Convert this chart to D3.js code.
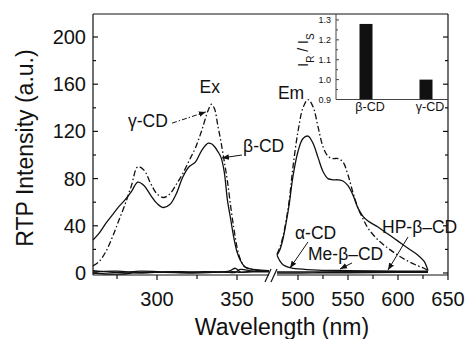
<!DOCTYPE html>
<html>
<head>
<meta charset="utf-8">
<script src="https://cdn.jsdelivr.net/npm/d3@7"></script>
<style>
  body { margin: 0; background: #fff; }
  text { font-family: "Liberation Sans", Arial, Helvetica, sans-serif; fill: #111; }
</style>
</head>
<body>
<script>
// excitation side (left of the axis break)
var exWl = [260, 264, 268, 272, 276, 280, 284, 288, 292, 296, 300, 304, 308, 312, 316, 320, 324, 328, 332, 334, 336, 338, 340, 342, 344, 346, 348, 350, 352, 355, 360, 365, 370];
var exBeta = [28, 34, 42, 49, 56, 62, 69, 77, 74, 66, 59, 55.5, 58, 67, 81, 90, 94, 104, 110, 109.5, 107, 103, 98, 86, 62, 46, 30, 18, 11, 5, 3, 2.5, 2];
var exGamma = [6, 10, 18, 30, 44, 58, 74, 90, 87, 76, 67, 64, 67, 75, 84, 95, 106, 121, 138, 143, 139, 125, 111, 95, 78, 57, 38, 22, 12, 5, 3, 2, 2];

var exLowWl = [260, 275, 290, 305, 320, 335, 345, 349, 352, 360, 370];
var exAlpha = [2, 0.5, 1.5, 1, 0.5, 1, 1.5, 4, 1, 1.5, 1.5];
var exMe = [0, -1, 0.5, 0.5, 0, 0.5, 1, 1, 0.5, 1, 1];
var exHP = [1, 1.5, 0, 1, 1, 1, 0.5, 0.5, 3, 1.5, 2];

// emission side (right of the axis break)
var emWl = [479, 482, 485, 488, 491, 495, 500, 505, 510, 515, 520, 525, 530, 535, 540, 545, 550, 555, 560, 565, 570, 580, 590, 600, 610, 620, 626, 630];
var emBeta = [15, 20, 29, 42, 57, 82, 103, 114, 116, 110, 98, 86, 80, 79, 79, 78, 74, 66, 55, 48, 44, 39, 33, 27, 21, 15, 10, 2];
var emGamma = [16, 22, 31, 44, 60, 90, 120, 140, 147, 141, 124, 107, 99, 97, 97, 94, 83, 68, 55, 46, 38, 28, 21, 15, 10, 6, 4, 2];

var emLowWl = [479, 482, 485, 490, 495, 500, 520, 550, 600, 630];
var emAlpha = [15, 10, 7, 5, 4, 3.5, 2.5, 2, 1.5, 1.5];
var emMe = [1, 1, 1, 1, 1, 1, 1, 1.2, 1.2, 1.2];
var emHP = [0, 0, 0, 0, 0, 0, 0.2, 0.2, 0.5, 0.5];

var yTicks = [0, 40, 80, 120, 160, 200];
var exTicks = [300, 350];
var emTicks = [500, 550, 600, 650];

// inset
var insetCats = ['β-CD', 'γ-CD'];
var insetRatio = [1.28, 1.00];
var insetTicks = [0.9, 1.0, 1.1, 1.2, 1.3];

document.addEventListener('DOMContentLoaded', function() {

  var svg = d3.select('body').append('svg').attr('width', 465).attr('height', 339);

  var xL = d3.scaleLinear().domain([260, 370]).range([93, 269]);
  var xR = d3.scaleLinear().domain([479, 650]).range([277, 448]);
  var y = d3.scaleLinear().domain([-1.7, 219.5]).range([275, 14]);

  var zip = function(xs, ys) { return xs.map(function(d, i) { return [d, ys[i]]; }); };

  var defs = svg.append('defs');
  defs.append('marker').attr('id', 'arr')
    .attr('viewBox', '0 0 10 10').attr('refX', 10).attr('refY', 5)
    .attr('markerWidth', 7).attr('markerHeight', 7).attr('markerUnits', 'userSpaceOnUse')
    .attr('orient', 'auto')
    .append('path').attr('d', 'M0,1 L10,5 L0,9 Z').attr('fill', '#111');

  var dashDot = '6,2.5,1.5,2.5';

  var drawCurve = function(xs, xWl, ys, dashed) {
    var line = d3.line()
      .x(function(d) { return xs(d[0]); })
      .y(function(d) { return y(d[1]); })
      .curve(d3.curveCatmullRom.alpha(0.5));
    svg.append('path')
      .attr('d', line(zip(xWl, ys)))
      .attr('fill', 'none')
      .attr('stroke', '#111')
      .attr('stroke-width', 1.3)
      .attr('stroke-dasharray', dashed ? dashDot : null);
  };

  drawCurve(xL, exLowWl, exAlpha);
  drawCurve(xL, exLowWl, exMe);
  drawCurve(xL, exLowWl, exHP);
  drawCurve(xL, exWl, exBeta);
  drawCurve(xL, exWl, exGamma, true);

  drawCurve(xR, emLowWl, emAlpha);
  drawCurve(xR, emLowWl, emMe);
  drawCurve(xR, emLowWl, emHP);
  drawCurve(xR, emWl, emBeta);
  drawCurve(xR, emWl, emGamma, true);

  // frame
  var frame = svg.append('g').attr('stroke', '#111').attr('stroke-width', 1.2).attr('fill', 'none');
  frame.append('line').attr('x1', 93).attr('x2', 93).attr('y1', y.range()[1]).attr('y2', y.range()[0]);
  frame.append('line').attr('x1', 448).attr('x2', 448).attr('y1', y.range()[1]).attr('y2', y.range()[0]);
  frame.append('line').attr('x1', 93).attr('x2', 448).attr('y1', 14).attr('y2', 14);
  frame.append('line').attr('x1', xL.range()[0]).attr('x2', xL.range()[1]).attr('y1', 275).attr('y2', 275);
  frame.append('line').attr('x1', xR.range()[0]).attr('x2', xR.range()[1]).attr('y1', 275).attr('y2', 275);
  // break marks
  frame.append('line').attr('x1', 265).attr('y1', 282).attr('x2', 271).attr('y2', 269);
  frame.append('line').attr('x1', 271).attr('y1', 282).attr('x2', 277).attr('y2', 269);

  // y ticks, inward on both sides
  var yMinor = d3.range(20, 220, 40);
  yTicks.forEach(function(t) {
    frame.append('line').attr('x1', 93).attr('x2', 98).attr('y1', y(t)).attr('y2', y(t));
    frame.append('line').attr('x1', 448).attr('x2', 443).attr('y1', y(t)).attr('y2', y(t));
  });
  yMinor.forEach(function(t) {
    frame.append('line').attr('x1', 93).attr('x2', 96).attr('y1', y(t)).attr('y2', y(t));
    frame.append('line').attr('x1', 448).attr('x2', 445).attr('y1', y(t)).attr('y2', y(t));
  });

  svg.selectAll('.ylab').data(yTicks).enter().append('text')
    .attr('x', 86).attr('y', function(d) { return y(d); })
    .attr('dy', '.35em').attr('text-anchor', 'end')
    .style('font-size', '20px')
    .text(function(d) { return d; });

  // x ticks, outward
  var xTickLines = function(xs, major, minor) {
    major.forEach(function(t) {
      frame.append('line').attr('x1', xs(t)).attr('x2', xs(t)).attr('y1', 275).attr('y2', 280);
    });
    minor.forEach(function(t) {
      frame.append('line').attr('x1', xs(t)).attr('x2', xs(t)).attr('y1', 275).attr('y2', 279);
    });
  };
  xTickLines(xL, exTicks, [275, 325]);
  xTickLines(xR, emTicks, [525, 575, 625]);

  svg.selectAll('.xlabL').data(exTicks).enter().append('text')
    .attr('x', function(d) { return xL(d); }).attr('y', 306)
    .attr('text-anchor', 'middle').style('font-size', '20px')
    .text(function(d) { return d; });
  svg.selectAll('.xlabR').data(emTicks).enter().append('text')
    .attr('x', function(d) { return xR(d); }).attr('y', 306)
    .attr('text-anchor', 'middle').style('font-size', '20px')
    .text(function(d) { return d; });

  svg.append('text').attr('x', 282).attr('y', 335)
    .attr('text-anchor', 'middle').style('font-size', '23px')
    .text('Wavelength (nm)');
  svg.append('text').attr('transform', 'translate(33,148) rotate(-90)')
    .attr('text-anchor', 'middle').style('font-size', '23px')
    .text('RTP Intensity (a.u.)');

  // annotations (data units)
  var label = function(xs, wl, v, txt, anchor) {
    svg.append('text').attr('x', xs(wl)).attr('y', y(v))
      .attr('text-anchor', anchor || 'start').style('font-size', '17.5px').text(txt);
  };
  var arrow = function(xs, w1, v1, w2, v2, dashed) {
    svg.append('line')
      .attr('x1', xs(w1)).attr('y1', y(v1)).attr('x2', xs(w2)).attr('y2', y(v2))
      .attr('stroke', '#111').attr('stroke-width', 1)
      .attr('stroke-dasharray', dashed ? '5,2,1.5,2' : null)
      .attr('marker-end', 'url(#arr)');
  };

  label(xL, 333, 152.5, 'Ex', 'middle');
  label(xR, 493, 147.5, 'Em', 'middle');
  label(xL, 281.9, 123.7, 'γ-CD');
  arrow(xL, 309.4, 127, 330.5, 136.5, true);
  label(xL, 353.8, 102.5, 'β-CD');
  arrow(xL, 353.1, 100, 340.6, 97.5);
  label(xR, 497, 28.8, 'α-CD');
  arrow(xR, 510, 26.3, 492, 4.2);
  label(xR, 510, 11, 'Me-β–CD');
  arrow(xR, 554, 8.5, 542, 3.4);
  label(xR, 584, 33.9, 'HP-β–CD');
  arrow(xR, 610, 30.5, 590, 2.5);

  // inset bar chart
  var iy = d3.scaleLinear().domain([0.9, 1.33]).range([99.5, 14]);
  var ix = d3.scalePoint().domain(insetCats).range([366, 426]);
  var inset = svg.append('g');

  inset.selectAll('rect').data(insetRatio).enter().append('rect')
    .attr('x', function(d, i) { return ix(insetCats[i]) - 6.5; })
    .attr('width', 13)
    .attr('y', function(d) { return iy(d); })
    .attr('height', function(d) { return iy(0.9) - iy(d); })
    .attr('fill', '#111');

  var ig = inset.append('g').attr('stroke', '#444').attr('stroke-width', 1);
  ig.append('line').attr('x1', 336).attr('x2', 336).attr('y1', 14).attr('y2', iy(0.9));
  ig.append('line').attr('x1', 336).attr('x2', 448).attr('y1', iy(0.9)).attr('y2', iy(0.9));
  insetTicks.forEach(function(t) {
    ig.append('line').attr('x1', 336).attr('x2', 339).attr('y1', iy(t)).attr('y2', iy(t));
  });
  d3.range(0.95, 1.3, 0.1).forEach(function(t) {
    ig.append('line').attr('x1', 336).attr('x2', 338).attr('y1', iy(t)).attr('y2', iy(t));
  });

  inset.selectAll('.ilab').data(insetTicks).enter().append('text')
    .attr('x', 331).attr('y', function(d) { return iy(d); })
    .attr('dy', '.35em').attr('text-anchor', 'end')
    .style('font-size', '9px')
    .text(function(d) { return d.toFixed(1); });

  inset.selectAll('.icat').data(insetCats).enter().append('text')
    .attr('x', function(d) { return ix(d) + 4; }).attr('y', 111)
    .attr('text-anchor', 'middle').style('font-size', '12.5px')
    .text(function(d) { return d; });

  var yl = inset.append('text').attr('transform', 'translate(308,50) rotate(-90)')
    .attr('text-anchor', 'middle').style('font-size', '14px');
  yl.append('tspan').text('I');
  yl.append('tspan').attr('baseline-shift', 'sub').style('font-size', '10px').text('R');
  yl.append('tspan').text(' / I');
  yl.append('tspan').attr('baseline-shift', 'sub').style('font-size', '10px').text('S');

});
</script>
</body>
</html>
